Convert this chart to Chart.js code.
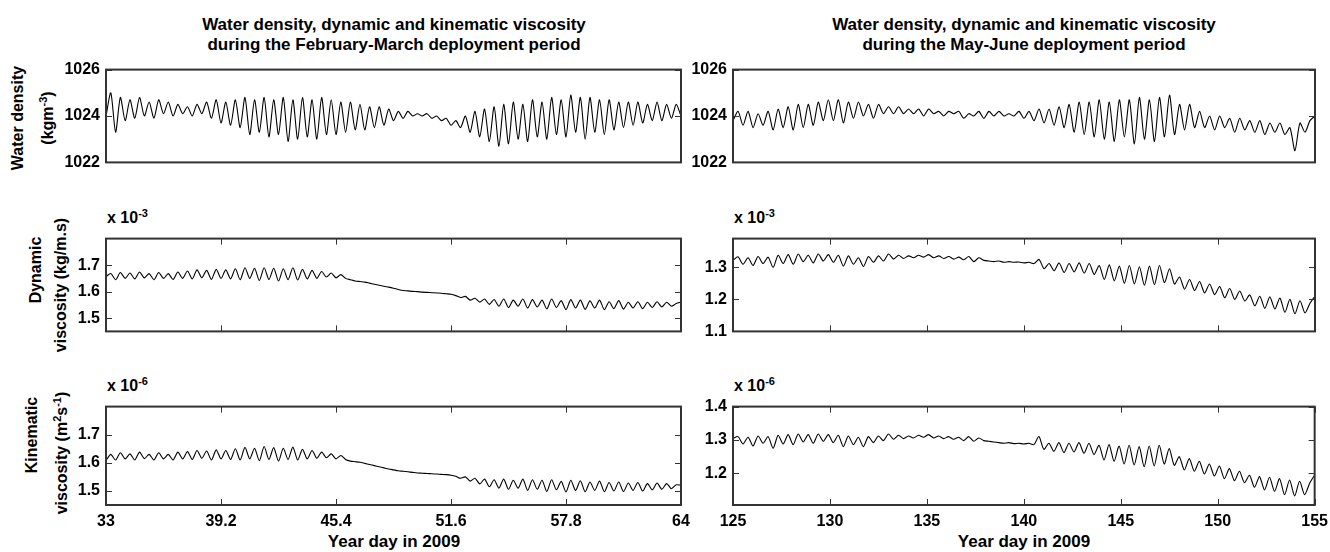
<!DOCTYPE html>
<html>
<head>
<meta charset="utf-8">
<script src="https://cdn.jsdelivr.net/npm/chart.js@4.4.1/dist/chart.umd.min.js"></script>
<style>
  body { margin: 0; background: #fff; }
  #fig { position: relative; width: 1330px; height: 552px; overflow: hidden;
         font-family: "Liberation Sans", Arial, sans-serif; font-weight: bold; color: #000; }
  #fig div { position: absolute; white-space: nowrap; }
  .title { font-size: 17px; line-height: 20px; text-align: center; transform: translateX(-50%); }
  .ylab { font-size: 16px; transform: translate(-50%, -50%) rotate(-90deg); }
  .ylab sup { font-size: 11px; }
  .exp { font-size: 16px; }
  .exp sup { font-size: 11px; }
  .xlab { font-size: 17px; transform: translateX(-50%); }
  canvas { position: absolute; }
</style>
</head>
<body>
<div id="fig">
  <div class="title" style="left:394px;top:15px">Water density, dynamic and kinematic viscosity<br>during the February-March deployment period</div>
  <div class="title" style="left:1024px;top:15px">Water density, dynamic and kinematic viscosity<br>during the May-June deployment period</div>

  <div class="ylab" style="left:18px;top:118px">Water density</div>
  <div class="ylab" style="left:47px;top:118px">(kgm<sup>-3</sup>)</div>
  <div class="ylab" style="left:36px;top:270px">Dynamic</div>
  <div class="ylab" style="left:61px;top:285px">viscosity (kg/m.s)</div>
  <div class="ylab" style="left:32px;top:435px">Kinematic</div>
  <div class="ylab" style="left:61px;top:453px">viscosity (m<sup>2</sup>s<sup>-1</sup>)</div>

  <div class="exp" style="left:107px;top:207px">x 10<sup>-3</sup></div>
  <div class="exp" style="left:734px;top:207px">x 10<sup>-3</sup></div>
  <div class="exp" style="left:107px;top:375px">x 10<sup>-6</sup></div>
  <div class="exp" style="left:734px;top:375px">x 10<sup>-6</sup></div>

  <div class="xlab" style="left:394px;top:532px">Year day in 2009</div>
  <div class="xlab" style="left:1024px;top:532px">Year day in 2009</div>
</div>
<script>
// deployment periods (year day) -- series are sampled every half tidal cycle
const febStart = 33, febEnd = 64;
const mayStart = 125, mayEnd = 155;

const febTicks = [33, 39.2, 45.4, 51.6, 57.8, 64];
const mayTicks = [125, 130, 135, 140, 145, 150, 155];
const densityTicks = [1022, 1024, 1026];
const febViscTicks = [1.5, 1.6, 1.7];
const mayDynTicks = [1.1, 1.2, 1.3];
const mayKinTicks = [1.2, 1.3, 1.4];

// water density (kg m^-3)
const febDensity = [
  1024.0, 1025.0, 1023.3, 1024.8, 1023.8, 1024.7, 1023.9, 1024.8, 1024.0, 1024.6,
  1023.9, 1024.7, 1024.1, 1024.6, 1024.0, 1024.5, 1024.1, 1024.4, 1024.0, 1024.5,
  1024.1, 1024.6, 1023.9, 1024.7, 1023.7, 1024.6, 1023.6, 1024.7, 1023.5, 1024.8,
  1023.2, 1024.7, 1023.3, 1024.8, 1023.1, 1024.7, 1023.2, 1024.8, 1022.9, 1024.7,
  1023.0, 1024.8, 1023.1, 1024.7, 1023.0, 1024.8, 1023.2, 1024.7, 1023.2, 1024.6,
  1023.3, 1024.6, 1023.4, 1024.5, 1023.4, 1024.4, 1023.5, 1024.4, 1023.6, 1024.3,
  1023.8, 1024.2, 1023.9, 1024.2, 1024.0, 1024.1, 1024.0, 1024.1, 1023.9, 1024.0,
  1023.8, 1023.9, 1023.6, 1023.8, 1023.5, 1024.0, 1023.3, 1024.2, 1023.1, 1024.3,
  1022.9, 1024.4, 1022.7, 1024.5, 1022.8, 1024.6, 1023.0, 1024.5, 1022.9, 1024.7,
  1023.1, 1024.6, 1023.0, 1024.8, 1023.2, 1024.7, 1023.1, 1024.9, 1023.3, 1024.8,
  1023.0, 1024.8, 1023.3, 1024.7, 1023.2, 1024.7, 1023.4, 1024.6, 1023.5, 1024.6,
  1023.6, 1024.6, 1023.7, 1024.5, 1023.8, 1024.6, 1023.8, 1024.5, 1023.9, 1024.5,
  1024.0
];
const mayDensity = [
  1023.8, 1024.2, 1023.6, 1024.2, 1023.5, 1024.1, 1023.6, 1024.2, 1023.4, 1024.3,
  1023.5, 1024.4, 1023.4, 1024.5, 1023.5, 1024.5, 1023.6, 1024.6, 1023.8, 1024.7,
  1023.8, 1024.7, 1023.7, 1024.6, 1023.9, 1024.6, 1024.0, 1024.5, 1023.9, 1024.5,
  1024.1, 1024.4, 1024.1, 1024.4, 1024.1, 1024.3, 1024.1, 1024.3, 1024.0, 1024.3,
  1024.1, 1024.2, 1024.0, 1024.2, 1024.1, 1024.2, 1023.9, 1024.1, 1024.0, 1024.2,
  1023.9, 1024.2, 1024.0, 1024.2, 1024.0, 1024.1, 1024.0, 1024.2, 1023.9, 1024.2,
  1023.8, 1024.3, 1023.7, 1024.3, 1023.6, 1024.4, 1023.5, 1024.5, 1023.3, 1024.6,
  1023.2, 1024.6, 1023.1, 1024.7, 1023.0, 1024.6, 1022.9, 1024.7, 1023.1, 1024.7,
  1022.8, 1024.8, 1023.0, 1024.7, 1022.9, 1024.8, 1023.1, 1024.9, 1023.2, 1024.5,
  1023.4, 1024.5, 1023.5, 1024.2, 1023.5, 1024.0, 1023.4, 1024.0, 1023.5, 1023.9,
  1023.3, 1023.9, 1023.4, 1023.8, 1023.3, 1023.8, 1023.2, 1023.7, 1023.3, 1023.7,
  1023.2, 1023.5, 1022.5, 1023.7, 1023.3, 1023.8, 1024.0
];

// dynamic viscosity (x 1e-3 kg/m.s)
const febDynamic = [
  1.657, 1.668, 1.645, 1.672, 1.650, 1.670, 1.648, 1.674, 1.652, 1.668,
  1.645, 1.672, 1.650, 1.668, 1.646, 1.674, 1.650, 1.678, 1.648, 1.682,
  1.652, 1.680, 1.646, 1.684, 1.650, 1.682, 1.648, 1.686, 1.645, 1.690,
  1.650, 1.688, 1.642, 1.690, 1.646, 1.688, 1.640, 1.686, 1.645, 1.690,
  1.644, 1.684, 1.648, 1.680, 1.650, 1.676, 1.655, 1.670, 1.652, 1.664,
  1.650, 1.645, 1.640, 1.638, 1.636, 1.632, 1.628, 1.624, 1.620, 1.617,
  1.613, 1.608, 1.604, 1.603, 1.601, 1.600, 1.598, 1.597, 1.596, 1.595,
  1.594, 1.592, 1.590, 1.585, 1.578, 1.582, 1.568, 1.575, 1.560, 1.572,
  1.552, 1.570, 1.545, 1.572, 1.540, 1.568, 1.545, 1.572, 1.538, 1.570,
  1.542, 1.568, 1.535, 1.572, 1.540, 1.566, 1.532, 1.570, 1.538, 1.568,
  1.533, 1.565, 1.538, 1.568, 1.532, 1.562, 1.536, 1.566, 1.534, 1.560,
  1.538, 1.562, 1.536, 1.560, 1.540, 1.562, 1.542, 1.560, 1.545, 1.555,
  1.560
];
const mayDynamic = [
  1.322, 1.333, 1.310, 1.330, 1.306, 1.334, 1.312, 1.332, 1.300, 1.338,
  1.312, 1.340, 1.310, 1.342, 1.318, 1.338, 1.314, 1.342, 1.320, 1.340,
  1.316, 1.338, 1.304, 1.336, 1.310, 1.330, 1.303, 1.334, 1.316, 1.336,
  1.320, 1.342, 1.326, 1.338, 1.328, 1.336, 1.330, 1.338, 1.332, 1.340,
  1.330, 1.336, 1.328, 1.334, 1.326, 1.332, 1.324, 1.334, 1.318, 1.330,
  1.322, 1.320, 1.318, 1.320, 1.316, 1.318, 1.316, 1.317, 1.314, 1.316,
  1.312, 1.325, 1.296, 1.312, 1.290, 1.314, 1.284, 1.312, 1.286, 1.314,
  1.282, 1.312, 1.278, 1.306, 1.262, 1.308, 1.258, 1.304, 1.250, 1.306,
  1.248, 1.302, 1.244, 1.304, 1.246, 1.306, 1.252, 1.296, 1.248, 1.270,
  1.232, 1.262, 1.228, 1.256, 1.220, 1.248, 1.215, 1.240, 1.205, 1.234,
  1.200, 1.226, 1.195, 1.214, 1.180, 1.210, 1.172, 1.208, 1.170, 1.204,
  1.160, 1.200, 1.155, 1.196, 1.158, 1.188, 1.210
];

// kinematic viscosity (x 1e-6 m^2/s)
const febKinematic = [
  1.608, 1.630, 1.610, 1.636, 1.614, 1.632, 1.610, 1.638, 1.615, 1.630,
  1.610, 1.636, 1.614, 1.630, 1.610, 1.638, 1.614, 1.640, 1.612, 1.644,
  1.616, 1.642, 1.610, 1.646, 1.614, 1.644, 1.612, 1.650, 1.610, 1.655,
  1.614, 1.652, 1.608, 1.658, 1.612, 1.654, 1.606, 1.652, 1.612, 1.656,
  1.610, 1.648, 1.614, 1.644, 1.616, 1.638, 1.618, 1.632, 1.614, 1.626,
  1.612, 1.606, 1.604, 1.602, 1.598, 1.594, 1.590, 1.586, 1.582, 1.578,
  1.575, 1.572, 1.570, 1.568, 1.566, 1.564, 1.563, 1.562, 1.561, 1.560,
  1.559, 1.558, 1.556, 1.552, 1.545, 1.550, 1.535, 1.545, 1.525, 1.542,
  1.515, 1.540, 1.510, 1.542, 1.506, 1.538, 1.510, 1.542, 1.502, 1.540,
  1.506, 1.538, 1.498, 1.540, 1.504, 1.534, 1.496, 1.538, 1.502, 1.536,
  1.497, 1.532, 1.502, 1.535, 1.497, 1.530, 1.500, 1.532, 1.498, 1.528,
  1.502, 1.530, 1.500, 1.526, 1.504, 1.528, 1.506, 1.526, 1.508, 1.522,
  1.520
];
const mayKinematic = [
  1.305, 1.310, 1.288, 1.308, 1.282, 1.312, 1.290, 1.310, 1.275, 1.314,
  1.288, 1.316, 1.286, 1.318, 1.294, 1.316, 1.290, 1.318, 1.296, 1.316,
  1.292, 1.314, 1.280, 1.312, 1.286, 1.308, 1.280, 1.310, 1.292, 1.312,
  1.298, 1.318, 1.302, 1.314, 1.304, 1.312, 1.306, 1.314, 1.308, 1.316,
  1.306, 1.312, 1.304, 1.310, 1.302, 1.308, 1.298, 1.310, 1.296, 1.306,
  1.298, 1.296, 1.294, 1.292, 1.290, 1.292, 1.289, 1.290, 1.288, 1.290,
  1.286, 1.310, 1.272, 1.290, 1.266, 1.292, 1.262, 1.290, 1.264, 1.292,
  1.260, 1.290, 1.256, 1.284, 1.240, 1.286, 1.236, 1.282, 1.228, 1.284,
  1.225, 1.280, 1.220, 1.282, 1.222, 1.284, 1.228, 1.274, 1.224, 1.250,
  1.210, 1.244, 1.206, 1.236, 1.198, 1.228, 1.192, 1.222, 1.184, 1.214,
  1.178, 1.206, 1.172, 1.194, 1.158, 1.190, 1.150, 1.188, 1.146, 1.184,
  1.136, 1.180, 1.132, 1.176, 1.136, 1.170, 1.195
];

// canvas margins around each axes box
const LM = 62, RM = 20, TM = 10, BM = 10, XH = 32;
const AXIS_FONT = { family: '"Liberation Sans", Arial, sans-serif', size: 16, weight: 'bold' };

const cols = [{ l: 106, w: 575 }, { l: 733, w: 582 }];
const rows = [{ t: 64, h: 104 }, { t: 233, h: 104 }, { t: 401, h: 104 }];

// MATLAB-style box with inward tick marks on all four sides
const boxTicks = {
  id: 'boxTicks',
  afterDraw(chart, args, opts) {
    const { ctx, chartArea: a, scales } = chart;
    ctx.save();
    ctx.strokeStyle = '#333';
    ctx.lineWidth = 1;
    ctx.beginPath();
    if (opts.xMarks) {
      scales.x.ticks.forEach(t => {
        const px = Math.round(scales.x.getPixelForValue(t.value)) + 0.5;
        ctx.moveTo(px, a.top); ctx.lineTo(px, a.top + 6);
        ctx.moveTo(px, a.bottom); ctx.lineTo(px, a.bottom - 6);
      });
    }
    scales.y.ticks.forEach(t => {
      const py = Math.round(scales.y.getPixelForValue(t.value)) + 0.5;
      ctx.moveTo(a.left, py); ctx.lineTo(a.left + 6, py);
      ctx.moveTo(a.right, py); ctx.lineTo(a.right - 6, py);
    });
    ctx.stroke();
    ctx.lineWidth = 2;
    ctx.strokeRect(a.left, a.top, a.right - a.left, a.bottom - a.top);
    ctx.restore();
  }
};

function sampleDays(start, end, n) {
  const step = (end - start) / (n - 1);
  return Array.from({ length: n }, (_, i) => start + i * step);
}

function makePanel(col, row, days, values, xTicks, yTicks, yMin, yMax, xMode) {
  const g = { l: cols[col].l, w: cols[col].w, t: rows[row].t, h: rows[row].h };
  const showX = xMode === 'labels';
  const canvas = document.createElement('canvas');
  canvas.width = g.w + LM + RM;
  canvas.height = g.h + TM + (showX ? XH : BM);
  canvas.style.left = (g.l - LM) + 'px';
  canvas.style.top = (g.t - TM) + 'px';
  document.getElementById('fig').appendChild(canvas);

  new Chart(canvas, {
    type: 'line',
    data: {
      datasets: [{
        data: days.map((d, i) => ({ x: d, y: values[i] })),
        borderColor: '#000',
        borderWidth: 1.1,
        pointRadius: 0,
        tension: 0.25,
        fill: false
      }]
    },
    options: {
      responsive: false,
      animation: false,
      events: [],
      layout: { padding: { left: 0, top: TM, right: RM, bottom: showX ? 0 : BM } },
      plugins: { legend: { display: false }, tooltip: { enabled: false }, boxTicks: { xMarks: xMode !== 'none' } },
      scales: {
        x: {
          type: 'linear', min: xTicks[0], max: xTicks[xTicks.length - 1],
          afterBuildTicks: s => { s.ticks = xTicks.map(v => ({ value: v })); },
          afterFit: s => { s.height = showX ? XH : 0; },
          grid: { display: false, drawTicks: false },
          border: { display: false },
          ticks: { display: showX, autoSkip: false, maxRotation: 0, padding: 7, color: '#000', font: AXIS_FONT,
                   callback: v => String(v) }
        },
        y: {
          min: yMin, max: yMax,
          afterBuildTicks: s => { s.ticks = yTicks.map(v => ({ value: v })); },
          afterFit: s => { s.width = LM; },
          grid: { display: false, drawTicks: false },
          border: { display: false },
          ticks: { padding: 6, color: '#000', font: AXIS_FONT,
                   callback: v => (Number.isInteger(v) ? String(v) : v.toFixed(1)) }
        }
      }
    },
    plugins: [boxTicks]
  });
}

const febDays = sampleDays(febStart, febEnd, febDensity.length);
const mayDays = sampleDays(mayStart, mayEnd, mayDensity.length);

makePanel(0, 0, febDays, febDensity, febTicks, densityTicks, 1022, 1026, 'none');
makePanel(1, 0, mayDays, mayDensity, mayTicks, densityTicks, 1022, 1026, 'none');
makePanel(0, 1, febDays, febDynamic, febTicks, febViscTicks, 1.45, 1.8, 'marks');
makePanel(1, 1, mayDays, mayDynamic, mayTicks, mayDynTicks, 1.1, 1.39, 'marks');
makePanel(0, 2, febDays, febKinematic, febTicks, febViscTicks, 1.45, 1.8, 'labels');
makePanel(1, 2, mayDays, mayKinematic, mayTicks, mayKinTicks, 1.105, 1.4, 'labels');
</script>
</body>
</html>
